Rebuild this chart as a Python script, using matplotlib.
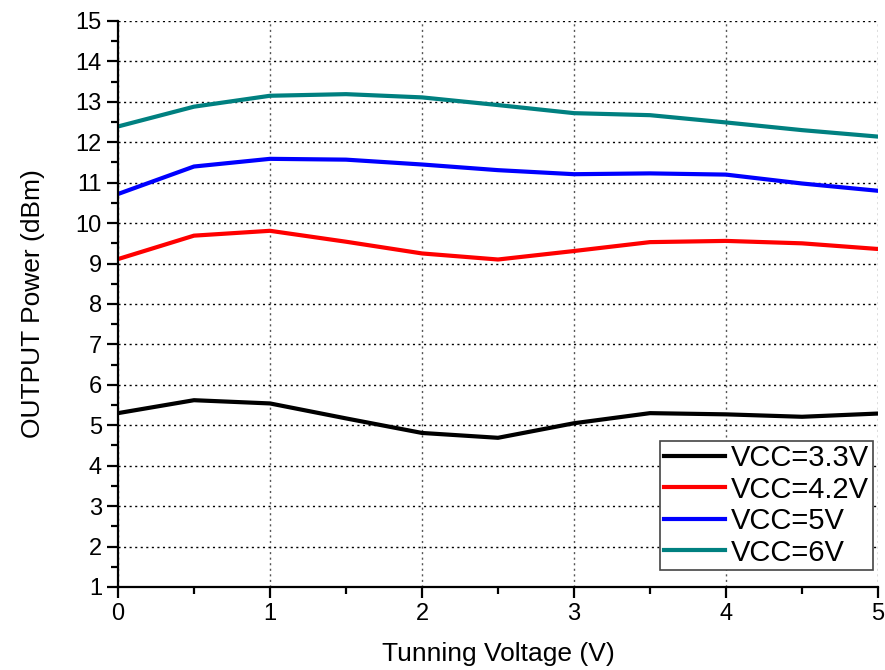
import matplotlib
matplotlib.use("Agg")
import matplotlib.pyplot as plt
from matplotlib.ticker import MultipleLocator

plt.rcParams['font.family'] = ['Liberation Sans', 'DejaVu Sans']

# tuning voltage (V)
tune_v = [0, 0.5, 1, 1.5, 2, 2.5, 3, 3.5, 4, 4.5, 5]

# output power (dBm) for each supply voltage
p_33 = [5.30, 5.62, 5.54, 5.17, 4.81, 4.69, 5.05, 5.30, 5.27, 5.21, 5.29]
p_42 = [9.11, 9.69, 9.81, 9.54, 9.25, 9.10, 9.31, 9.53, 9.56, 9.50, 9.36]
p_5 = [10.72, 11.40, 11.59, 11.57, 11.45, 11.31, 11.21, 11.23, 11.20, 10.98, 10.80]
p_6 = [12.39, 12.88, 13.15, 13.19, 13.11, 12.92, 12.72, 12.67, 12.49, 12.30, 12.14]

labels = ["VCC=3.3V", "VCC=4.2V", "VCC=5V", "VCC=6V"]
colors = ["#000000", "#FF0000", "#0000FF", "#008080"]

fig = plt.figure(figsize=(8.85, 6.7), dpi=100)
ax = fig.add_axes([0.1333, 0.1239, 0.8588, 0.8448])

for ys, lab, col in zip([p_33, p_42, p_5, p_6], labels, colors):
    ax.plot(tune_v, ys, color=col, lw=3, label=lab, solid_joinstyle='round')

ax.set_xlim(0, 5)
ax.set_ylim(1, 15)
ax.xaxis.set_major_locator(MultipleLocator(1))
ax.xaxis.set_minor_locator(MultipleLocator(0.5))
ax.yaxis.set_major_locator(MultipleLocator(1))
ax.yaxis.set_minor_locator(MultipleLocator(0.5))

ax.spines['top'].set_visible(False)
ax.spines['right'].set_visible(False)
ax.spines['left'].set_linewidth(1.6)
ax.spines['bottom'].set_linewidth(1.6)

ax.tick_params(which='major', direction='out', length=8, width=1.6, labelsize=17)
ax.tick_params(which='minor', direction='out', length=5, width=1.6)

ax.yaxis.grid(True, linestyle=(0, (1.5, 2.5)), color='black', lw=1)
ax.xaxis.grid(True, linestyle=(0, (1.5, 2.5)), color='#555555', lw=1)

ax.set_xlabel("Tunning Voltage (V)", fontsize=19, labelpad=12)
ax.set_ylabel("OUTPUT Power (dBm)", fontsize=19, labelpad=22)

leg = ax.legend(loc='lower right', bbox_to_anchor=(0.993, 0.03), borderaxespad=0,
                fontsize=21, handlelength=2.1, handletextpad=0.2, labelspacing=0.12,
                borderpad=0.12, fancybox=False, framealpha=1, edgecolor='#444444')
leg.get_frame().set_linewidth(1.2)

fig.savefig("out.png", dpi=100)
